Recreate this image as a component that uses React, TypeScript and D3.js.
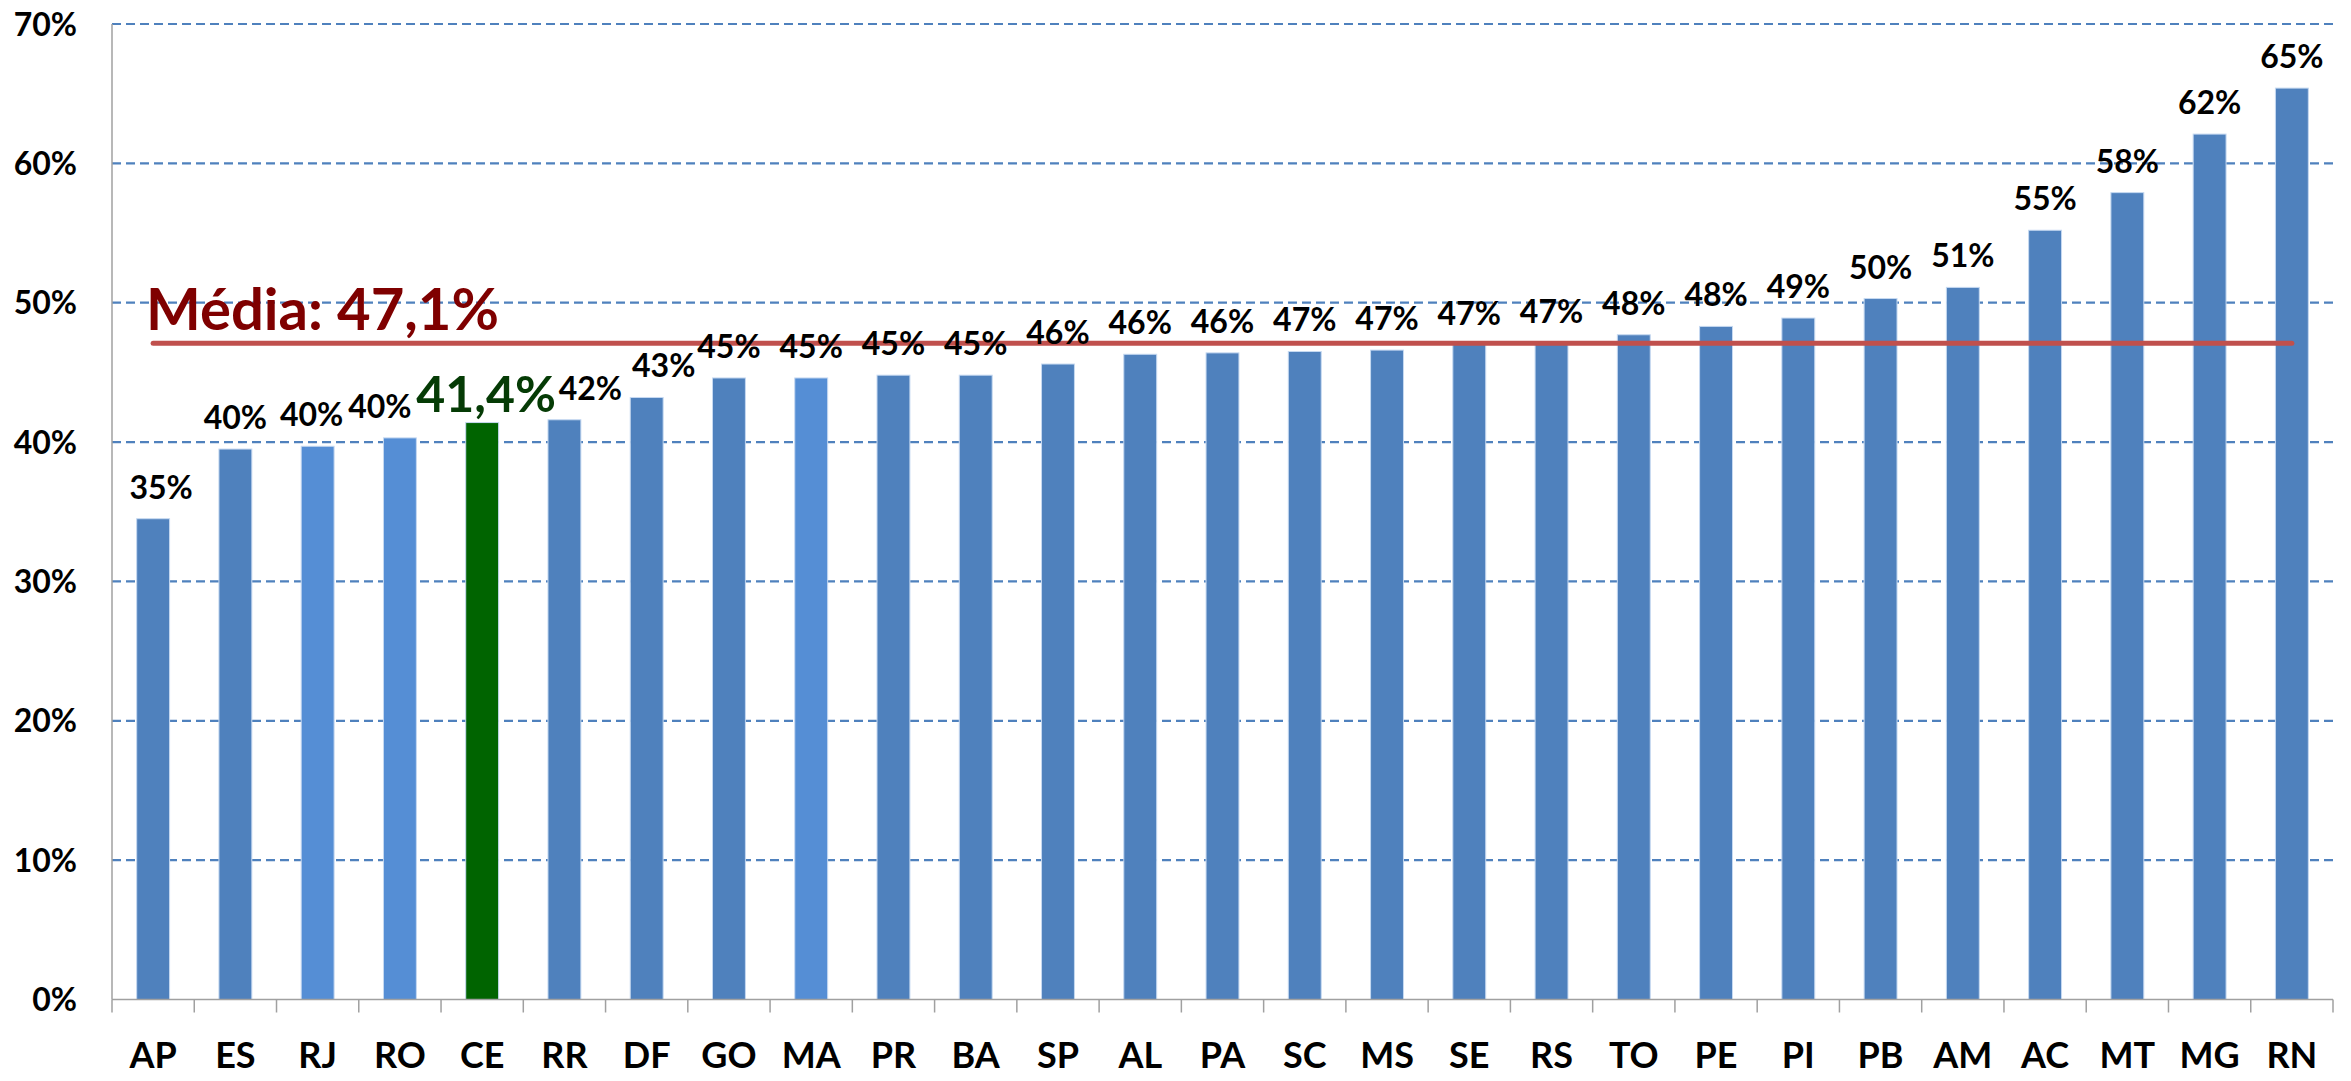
import React from 'react';
import * as d3 from 'd3';

const states = ['AP', 'ES', 'RJ', 'RO', 'CE', 'RR', 'DF', 'GO', 'MA', 'PR', 'BA', 'SP', 'AL', 'PA',
  'SC', 'MS', 'SE', 'RS', 'TO', 'PE', 'PI', 'PB', 'AM', 'AC', 'MT', 'MG', 'RN'];
const values = [34.5, 39.5, 39.7, 40.3, 41.4, 41.6, 43.2, 44.6, 44.6, 44.8, 44.8, 45.6, 46.3, 46.4,
  46.5, 46.6, 47.0, 47.1, 47.7, 48.3, 48.9, 50.3, 51.1, 55.2, 57.9, 62.1, 65.4];
const yTicks = [0, 10, 20, 30, 40, 50, 60, 70];
const mean = 47.1;
const meanLabel = 'Média: 47,1%';
const highlight = 'CE';
const highlightLabel = '41,4%';
const lighter = ['RJ', 'RO', 'MA'];

// excel moved a few crowded labels sideways
const labelNudge: Record<string, number> = { AP: 8, RJ: -6, RO: -20, CE: 4, RR: 26, DF: 17 };

const W = 2351;
const H = 1081;
const font = 'Lato, "Open Sans", sans-serif';

export default function App() {
  const x = d3.scaleBand<string>()
    .domain(states)
    .range([112, 2333])
    .paddingInner(0.6)
    .paddingOuter(0.3);
  const y = d3.scaleLinear().domain([0, 70]).range([999.5, 24]);

  const step = x.step();
  const [x0, x1] = x.range();
  const center = (s: string) => (x(s) as number) + x.bandwidth() / 2;
  const barColor = (s: string) => (s === highlight ? '#006400' : lighter.includes(s) ? '#558ED5' : '#4F81BD');

  return (
    <svg width={W} height={H} style={{ position: 'absolute', left: 0, top: 0, display: 'block', background: '#fff' }}>
      {/* grid */}
      {yTicks.filter(t => t > 0).map(t => (
        <line key={t} x1={x0} x2={x1} y1={y(t)} y2={y(t)} stroke="#4F81BD" strokeWidth={2.2} strokeDasharray="9,5" />
      ))}

      {/* y labels */}
      {yTicks.map(t => (
        <text key={t} x={77} y={y(t)} dy="0.36em" textAnchor="end" fontFamily={font} fontWeight={700}
          fontSize={32} fill="#000">{t}%</text>
      ))}

      {/* bars */}
      {states.map((s, i) => (
        <rect key={s} x={x(s)} y={y(values[i])} width={x.bandwidth()} height={y(0) - y(values[i])}
          fill={barColor(s)} stroke="#C6D9F1" strokeWidth={1} />
      ))}

      {/* axes */}
      <line x1={x0} x2={x0} y1={y(70)} y2={y(0)} stroke="#A0A0A0" strokeWidth={1.5} />
      <line x1={x0} x2={x1} y1={y(0)} y2={y(0)} stroke="#A0A0A0" strokeWidth={1.5} />
      {d3.range(states.length + 1).map(i => (
        <line key={i} x1={x0 + i * step} x2={x0 + i * step} y1={y(0)} y2={y(0) + 13} stroke="#A0A0A0" strokeWidth={1.5} />
      ))}
      {states.map(s => (
        <text key={s} x={center(s)} y={1068} textAnchor="middle" fontFamily={font} fontWeight={700}
          fontSize={36} fill="#000">{s}</text>
      ))}

      {/* mean line */}
      <line x1={center(states[0])} x2={center(states[states.length - 1])} y1={y(mean)} y2={y(mean)}
        stroke="#C0504D" strokeWidth={5} strokeLinecap="round" />
      <text x={146} y={y(mean) - 13} fontFamily={font} fontWeight={700} fontSize={58} fill="#7F0000">{meanLabel}</text>

      {/* value labels */}
      {states.map((s, i) => s === highlight ? (
        <text key={s} x={center(s) + (labelNudge[s] || 0)} y={y(values[i]) - 11} textAnchor="middle"
          fontFamily={font} fontWeight={700} fontSize={50} fill="#053B05">{highlightLabel}</text>
      ) : (
        <text key={s} x={center(s) + (labelNudge[s] || 0)} y={y(values[i]) - 20} textAnchor="middle"
          fontFamily={font} fontWeight={700} fontSize={32} fill="#000">{Math.round(values[i])}%</text>
      ))}
    </svg>
  );
}
